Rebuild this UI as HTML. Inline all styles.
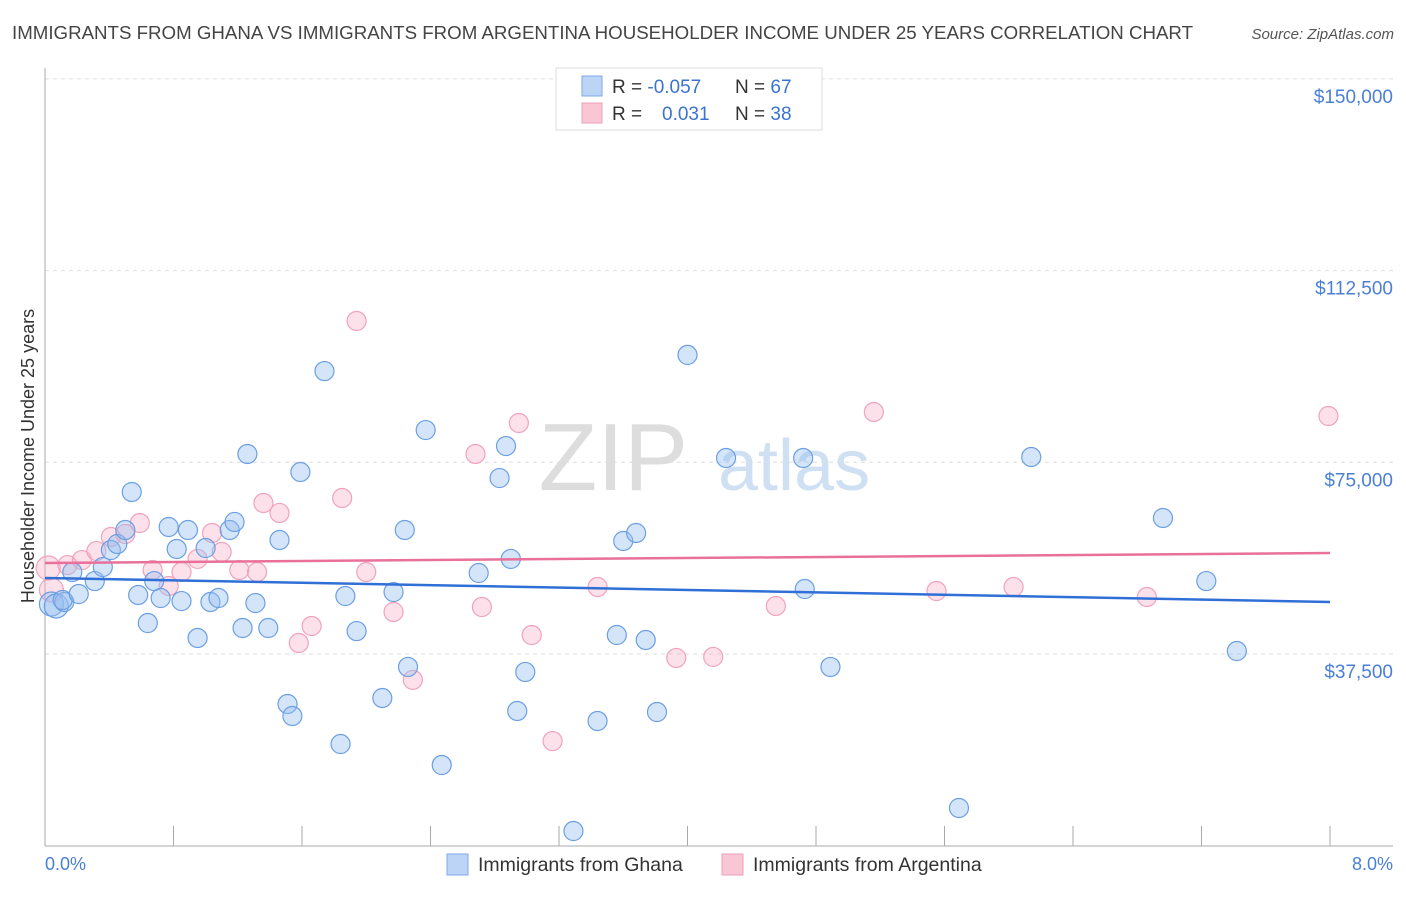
<!DOCTYPE html>
<html><head><meta charset="utf-8"><style>
body{margin:0;background:#fff;font-family:"Liberation Sans",sans-serif;}
svg text{font-family:"Liberation Sans",sans-serif;}
</style></head><body>
<svg width="1406" height="892" viewBox="0 0 1406 892">
<text x="12" y="39" font-size="18" fill="#444" textLength="1181" lengthAdjust="spacingAndGlyphs">IMMIGRANTS FROM GHANA VS IMMIGRANTS FROM ARGENTINA HOUSEHOLDER INCOME UNDER 25 YEARS CORRELATION CHART</text>
<text x="1394" y="39" font-size="15" fill="#555" text-anchor="end" font-style="italic">Source: ZipAtlas.com</text>
<g id="grid"></g>
<text x="688" y="490" font-size="96" fill="#ddd" text-anchor="end" font-family="Liberation Serif">ZIP</text>
<text x="718" y="490" font-size="72" fill="#cfe0f3">atlas</text>
<g id="axes"></g>
<g id="pts"></g>
<g id="trends"></g>
<text transform="translate(34,456) rotate(-90)" font-size="18" fill="#333" text-anchor="middle">Householder Income Under 25 years</text>
<text x="45" y="870" font-size="18" fill="#4a7fd6">0.0%</text>
<text x="1393" y="870" font-size="18" fill="#4a7fd6" text-anchor="end">8.0%</text>
<g>
<rect x="556" y="68" width="266" height="62" fill="#fff" stroke="#ddd"/>
<rect x="582" y="76" width="20" height="20" fill="#bcd4f5" stroke="#7fa8e6"/>
<rect x="582" y="103" width="20" height="20" fill="#f9c6d6" stroke="#ee9fb8"/>
<text x="612" y="93" font-size="19" fill="#333">R = <tspan fill="#3b73d1">-0.057</tspan></text>
<text x="735" y="93" font-size="19" fill="#333">N = <tspan fill="#3b73d1">67</tspan></text>
<text x="612" y="120" font-size="19" fill="#333">R = <tspan fill="#3b73d1" x="662">0.031</tspan></text>
<text x="735" y="120" font-size="19" fill="#333">N = <tspan fill="#3b73d1">38</tspan></text>
</g>
<g>
<rect x="447" y="854" width="21" height="21" fill="#bcd4f5" stroke="#7fa8e6"/>
<text x="478" y="871" font-size="19.5" fill="#333">Immigrants from Ghana</text>
<rect x="722" y="854" width="21" height="21" fill="#f9c6d6" stroke="#ee9fb8"/>
<text x="753" y="871" font-size="19.5" fill="#333">Immigrants from Argentina</text>
</g>
</svg>
<script>
const yTicks=[37500,75000,112500,150000];
const yTickLabels=["$37,500","$75,000","$112,500","$150,000"];
const xTicks=[0,0.8,1.6,2.4,3.2,4.0,4.8,5.6,6.4,7.2,8.0];
const ghanaX=[0.04,0.07,0.12,0.11,0.17,0.21,0.31,0.36,0.41,0.45,0.50,0.54,0.58,0.64,0.68,0.72,0.77,0.82,0.85,0.89,0.95,1.00,1.03,1.08,1.15,1.18,1.23,1.26,1.31,1.39,1.46,1.51,1.54,1.59,1.74,1.84,1.87,1.94,2.10,2.17,2.24,2.26,2.37,2.47,2.70,2.83,2.87,2.90,2.94,2.99,3.29,3.44,3.56,3.60,3.68,3.74,3.81,4.00,4.24,4.72,4.73,4.89,5.69,6.14,6.96,7.23,7.42];
const ghanaY=[47280,46890,47670,48060,53540,49230,51770,54510,57840,59020,61760,69190,49040,43560,51770,48450,62350,58040,47860,61760,40630,58230,47670,48450,61760,63330,42580,76620,47470,42580,59800,27720,25370,73100,92850,19890,48840,41990,28890,49620,61760,34970,81310,15780,53340,71920,78180,56100,26350,33990,2870,24390,41210,59610,61170,40240,26150,96010,75840,75840,50210,34970,7380,76040,64110,51770,38080];
const argX=[0.02,0.04,0.14,0.23,0.32,0.41,0.50,0.59,0.67,0.77,0.85,0.95,1.04,1.10,1.21,1.32,1.36,1.46,1.58,1.66,1.85,1.94,2.00,2.17,2.29,2.68,2.72,2.95,3.03,3.16,3.44,3.93,4.16,4.55,5.16,5.55,6.03,6.86,7.99];
const argY=[54320,50020,54900,55880,57640,60380,60970,63120,53930,50800,53540,56100,61170,57450,53930,53540,67040,65090,39650,42970,68020,102640,53540,45720,32440,76620,46690,82690,41210,20470,50610,36730,36930,46890,84840,49820,50610,48650,84060];
const trendX=[0,8];
const ghanaTrend=[52370,47670];
const argTrend=[55300,57250];
const NS="http://www.w3.org/2000/svg";
const X=v=>45+v/8*1285;
const Y=v=>845.7-v/37500*191.7;
function mk(t,a,p){const e=document.createElementNS(NS,t);for(const k in a)e.setAttribute(k,a[k]);p.appendChild(e);return e;}
const grid=document.getElementById('grid'),axes=document.getElementById('axes'),pts=document.getElementById('pts'),tr=document.getElementById('trends');
yTicks.forEach((v,i)=>{
 const l=mk('line',{x1:45,x2:1393,y1:Y(v),y2:Y(v),stroke:'#ddd','stroke-dasharray':'4,4'},grid);
 
 
 const t=mk('text',{x:1393,y:Y(v)+24,'font-size':19,fill:'#4a7fd6','text-anchor':'end'},grid);
 t.textContent=yTickLabels[i];
 
 
});
const ya=mk('line',{x1:45,x2:45,y1:68,y2:846,stroke:'#aaa'},axes);


const xa=mk('line',{x1:45,x2:1393,y1:846,y2:846,stroke:'#aaa'},axes);


xTicks.forEach(v=>{
 const l=mk('line',{x1:X(v),x2:X(v),y1:826,y2:846,stroke:'#aaa'},axes);
 
 
});
function dots(xs,ys,fill,stroke,name){
 xs.forEach((x,i)=>{
  const big=x<0.1;
  const c=mk('circle',{cx:X(x),cy:Y(ys[i]),r:big?12:9.5,fill:fill,stroke:stroke,'stroke-width':1.2},pts);
  
  
 });
}
dots(argX,argY,'rgba(246,170,195,0.35)','#f0a3bb','point-argentina');
dots(ghanaX,ghanaY,'rgba(150,190,240,0.4)','#6b9fe3','point-ghana');
const t1=mk('line',{x1:X(trendX[0]),x2:X(trendX[1]),y1:Y(ghanaTrend[0]),y2:Y(ghanaTrend[1]),stroke:'#2f6fd6','stroke-width':2.5},tr);


const t2=mk('line',{x1:X(trendX[0]),x2:X(trendX[1]),y1:Y(argTrend[0]),y2:Y(argTrend[1]),stroke:'#e8709a','stroke-width':2.5},tr);


</script>
</body></html>
